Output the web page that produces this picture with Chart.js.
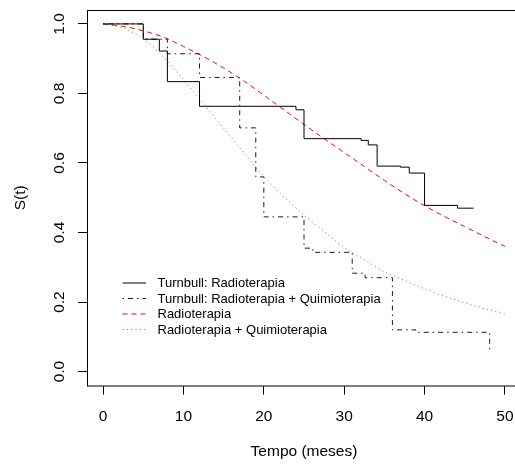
<!DOCTYPE html>
<html>
<head>
<meta charset="utf-8">
<script src="https://cdn.jsdelivr.net/npm/chart.js@4/dist/chart.umd.min.js"></script>
<style>
  html, body { margin: 0; padding: 0; background: #fff; overflow: hidden; }
  #quadro { width: 515px; height: 465px; overflow: hidden; }
</style>
</head>
<body>
<div id="quadro"><canvas id="grafico" width="530" height="465"></canvas></div>
<script>
const rotulos = ['Turnbull: Radioterapia', 'Turnbull: Radioterapia + Quimioterapia', 'Radioterapia', 'Radioterapia + Quimioterapia'];
const ticksX = [0, 10, 20, 30, 40, 50];
const ticksY = [0, 0.2, 0.4, 0.6, 0.8, 1.0];

// estimativas de Turnbull (degraus)
const tempoTurnbullRadio = [0, 5, 7, 8, 12, 24, 25, 32.1, 33, 34.1, 37, 38.1, 40, 44.1, 46.1];
const sTurnbullRadio = [1, 0.956, 0.922, 0.834, 0.763, 0.753, 0.670, 0.665, 0.652, 0.591, 0.588, 0.571, 0.478, 0.470, 0.470];

const tempoTurnbullRadioQuimio = [0, 5, 8, 12, 17, 19, 20, 25, 26.1, 31, 32.6, 36, 38.9, 48.1];
const sTurnbullRadioQuimio = [1, 0.956, 0.914, 0.846, 0.701, 0.560, 0.445, 0.355, 0.343, 0.283, 0.270, 0.120, 0.113, 0.06];

// curvas ajustadas
const tempoAjuste = [0, 2.5, 5, 7.5, 10, 12.5, 15, 17.5, 20, 22.5, 25, 27.5, 30, 32.5, 35, 37.5, 40, 42.5, 45, 47.5, 50];
const sRadio = [1, 0.993, 0.98, 0.962, 0.935, 0.906, 0.873, 0.836, 0.795, 0.753, 0.711, 0.670, 0.630, 0.590, 0.550, 0.512, 0.477, 0.446, 0.417, 0.388, 0.36];
const sRadioQuimio = [1, 0.988, 0.957, 0.905, 0.84, 0.77, 0.70, 0.63, 0.562, 0.503, 0.45, 0.403, 0.357, 0.322, 0.287, 0.262, 0.238, 0.217, 0.198, 0.181, 0.165];

const pontos = (xs, ys) => xs.map((t, i) => ({ x: t, y: ys[i] }));

const fonte = '"Liberation Sans", Arial, Helvetica, sans-serif';

const estilos = [
  { cor: '#000000', traco: [] },
  { cor: '#1a1a1a', traco: [1.5, 4, 5, 4] },
  { cor: '#ff0000', traco: [5, 4] },
  { cor: '#22dd22', traco: [1.3, 3] }
];

const pluginMoldura = {
  id: 'pluginMoldura',
  afterDraw(chart) {
    const { ctx, chartArea: a, scales: { x, y } } = chart;
    ctx.save();
    // caixa
    ctx.strokeStyle = '#000';
    ctx.lineWidth = 1;
    ctx.strokeRect(a.left + 0.5, a.top + 0.5, a.right - a.left, a.bottom - a.top);

    ctx.fillStyle = '#000';
    ctx.font = '15.5px ' + fonte;
    ctx.textAlign = 'center';
    ctx.textBaseline = 'alphabetic';
    ticksX.forEach(v => ctx.fillText(String(v), x.getPixelForValue(v), 421));
    ticksY.forEach(v => {
      ctx.save();
      ctx.translate(64, y.getPixelForValue(v));
      ctx.rotate(-Math.PI / 2);
      ctx.fillText(v.toFixed(1), 0, 0);
      ctx.restore();
    });
    ctx.fillText('Tempo (meses)', (a.left + a.right) / 2, 456);
    ctx.save();
    ctx.translate(25, (a.top + a.bottom) / 2);
    ctx.rotate(-Math.PI / 2);
    ctx.fillText('S(t)', 0, 0);
    ctx.restore();

    // legenda
    ctx.font = '13px ' + fonte;
    ctx.textAlign = 'left';
    const linhas = [282.5, 298, 313.5, 329];
    rotulos.forEach((r, i) => {
      const yy = linhas[i];
      ctx.strokeStyle = estilos[i].cor;
      ctx.setLineDash(estilos[i].traco);
      ctx.beginPath();
      ctx.moveTo(122.5, yy + 0.5);
      ctx.lineTo(146, yy + 0.5);
      ctx.stroke();
      ctx.setLineDash([]);
      ctx.fillStyle = '#000';
      ctx.fillText(r, 157.5, yy + 4.5);
    });
    ctx.restore();
  }
};

const conjunto = (i, dados, degrau) => ({
  label: rotulos[i],
  data: dados,
  showLine: true,
  borderColor: estilos[i].cor,
  borderDash: estilos[i].traco,
  borderWidth: 1,
  pointRadius: 0,
  fill: false,
  stepped: degrau ? 'before' : false,
  cubicInterpolationMode: degrau ? 'default' : 'monotone'
});

new Chart(document.getElementById('grafico'), {
  type: 'scatter',
  data: {
    datasets: [
      conjunto(0, pontos(tempoTurnbullRadio, sTurnbullRadio), true),
      conjunto(1, pontos(tempoTurnbullRadioQuimio, sTurnbullRadioQuimio), true),
      conjunto(2, pontos(tempoAjuste, sRadio), false),
      conjunto(3, pontos(tempoAjuste, sRadioQuimio), false)
    ]
  },
  options: {
    responsive: false,
    animation: false,
    layout: { padding: { left: 0, top: 10, right: 9, bottom: 0 } },
    plugins: { legend: { display: false }, tooltip: { enabled: false } },
    scales: {
      x: {
        type: 'linear',
        min: -2,
        max: 52,
        afterBuildTicks: s => { s.ticks = ticksX.map(v => ({ value: v })); },
        afterFit: s => { s.height = 79.5; },
        ticks: { display: false },
        grid: { drawOnChartArea: false, drawTicks: true, tickLength: 9, color: '#000' },
        border: { display: false }
      },
      y: {
        type: 'linear',
        min: -0.04,
        max: 1.04,
        afterBuildTicks: s => { s.ticks = ticksY.map(v => ({ value: v })); },
        afterFit: s => { s.width = 87; },
        ticks: { display: false },
        grid: { drawOnChartArea: false, drawTicks: true, tickLength: 9, color: '#000' },
        border: { display: false }
      }
    }
  },
  plugins: [pluginMoldura]
});
</script>
</body>
</html>
